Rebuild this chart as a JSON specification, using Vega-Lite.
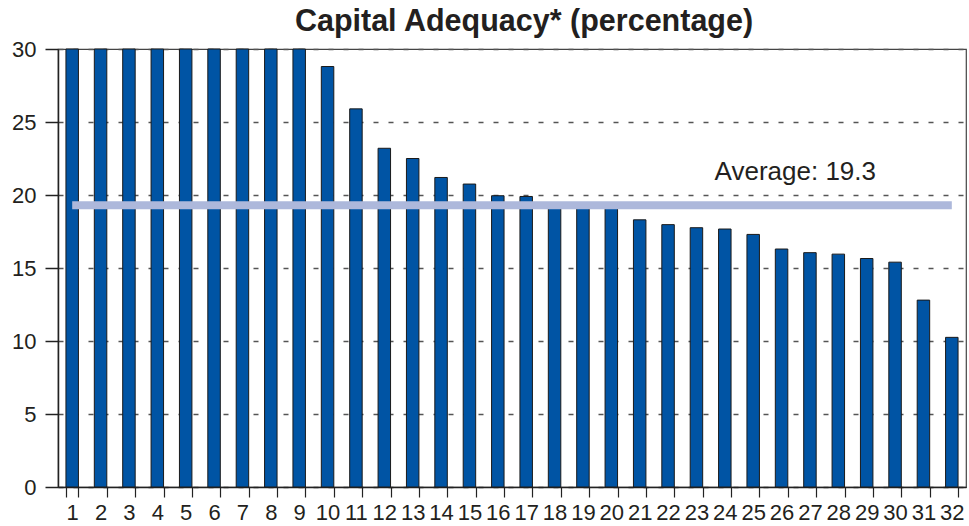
{
  "$schema": "https://vega.github.io/schema/vega-lite/v6.json",
  "autosize": {"type": "none"},
  "padding": {"left": 58, "top": 49, "right": 3, "bottom": 39},
  "width": 908,
  "height": 438,
  "title": {
    "text": "Capital Adequacy* (percentage)",
    "font": "Liberation Sans",
    "fontSize": 30.5,
    "fontWeight": "bold",
    "color": "#231f20",
    "anchor": "middle",
    "offset": 10,
    "dy": 9,
    "dx": 12
  },
  "config": {
    "view": {"stroke": "#444", "strokeWidth": 1.2},
    "axis": {
      "labelFont": "Liberation Sans",
      "labelFontSize": 22,
      "labelColor": "#231f20",
      "domainColor": "#222",
      "tickColor": "#222",
      "title": null
    }
  },
  "layer": [
    {
      "data": {
        "values": [
          {"bank": "1", "value": 30},
          {"bank": "2", "value": 30},
          {"bank": "3", "value": 30},
          {"bank": "4", "value": 30},
          {"bank": "5", "value": 30},
          {"bank": "6", "value": 30},
          {"bank": "7", "value": 30},
          {"bank": "8", "value": 30},
          {"bank": "9", "value": 30},
          {"bank": "10", "value": 28.8},
          {"bank": "11", "value": 25.9},
          {"bank": "12", "value": 23.2},
          {"bank": "13", "value": 22.5},
          {"bank": "14", "value": 21.2},
          {"bank": "15", "value": 20.75},
          {"bank": "16", "value": 19.95},
          {"bank": "17", "value": 19.9},
          {"bank": "18", "value": 19.1},
          {"bank": "19", "value": 19.1},
          {"bank": "20", "value": 19.1},
          {"bank": "21", "value": 18.3},
          {"bank": "22", "value": 17.97},
          {"bank": "23", "value": 17.76},
          {"bank": "24", "value": 17.67},
          {"bank": "25", "value": 17.3},
          {"bank": "26", "value": 16.3},
          {"bank": "27", "value": 16.05},
          {"bank": "28", "value": 15.95},
          {"bank": "29", "value": 15.65},
          {"bank": "30", "value": 15.4},
          {"bank": "31", "value": 12.8},
          {"bank": "32", "value": 10.25}
        ]
      },
      "mark": {"type": "bar", "color": "#0054a4", "stroke": "#1a1a1a", "strokeWidth": 1},
      "encoding": {
        "x": {
          "field": "bank",
          "type": "nominal",
          "sort": null,
          "scale": {
            "domain": ["1","2","3","4","5","6","7","8","9","10","11","12","13","14","15","16","17","18","19","20","21","22","23","24","25","26","27","28","29","30","31","32"],
            "paddingInner": 0.56,
            "paddingOuter": 0.28
          },
          "axis": {
            "labelAngle": 0,
            "labelOverlap": false,
            "tickBand": "extent",
            "tickSize": 10,
            "tickWidth": 1.2,
            "labelPadding": 5,
            "domainWidth": 1.5
          }
        },
        "y": {
          "field": "value",
          "type": "quantitative",
          "scale": {"domain": [0, 30], "nice": false},
          "axis": {
            "values": [0, 5, 10, 15, 20, 25, 30],
            "tickSize": 13,
            "tickWidth": 1.5,
            "labelPadding": 9,
            "domainWidth": 1.5,
            "grid": true,
            "gridColor": "#555",
            "gridDash": [5, 10],
            "gridWidth": 1.5
          }
        }
      }
    },
    {
      "data": {"values": [{"from": "1", "to": "32", "average": 19.3, "label": "Average: 19.3", "labelAt": "24"}]},
      "layer": [
        {
          "mark": {"type": "rule", "color": "#adb8db", "strokeWidth": 8, "strokeCap": "butt"},
          "encoding": {
            "x": {"field": "from", "type": "nominal", "sort": null},
            "x2": {"field": "to"},
            "y": {"field": "average", "type": "quantitative"}
          }
        },
        {
          "mark": {
            "type": "text",
            "font": "Liberation Sans",
            "fontSize": 26,
            "color": "#231f20",
            "align": "left",
            "baseline": "alphabetic",
            "dx": -4,
            "dy": -25
          },
          "encoding": {
            "x": {"field": "labelAt", "type": "nominal", "sort": null, "bandPosition": 0},
            "y": {"field": "average", "type": "quantitative"},
            "text": {"field": "label"}
          }
        }
      ]
    }
  ]
}
